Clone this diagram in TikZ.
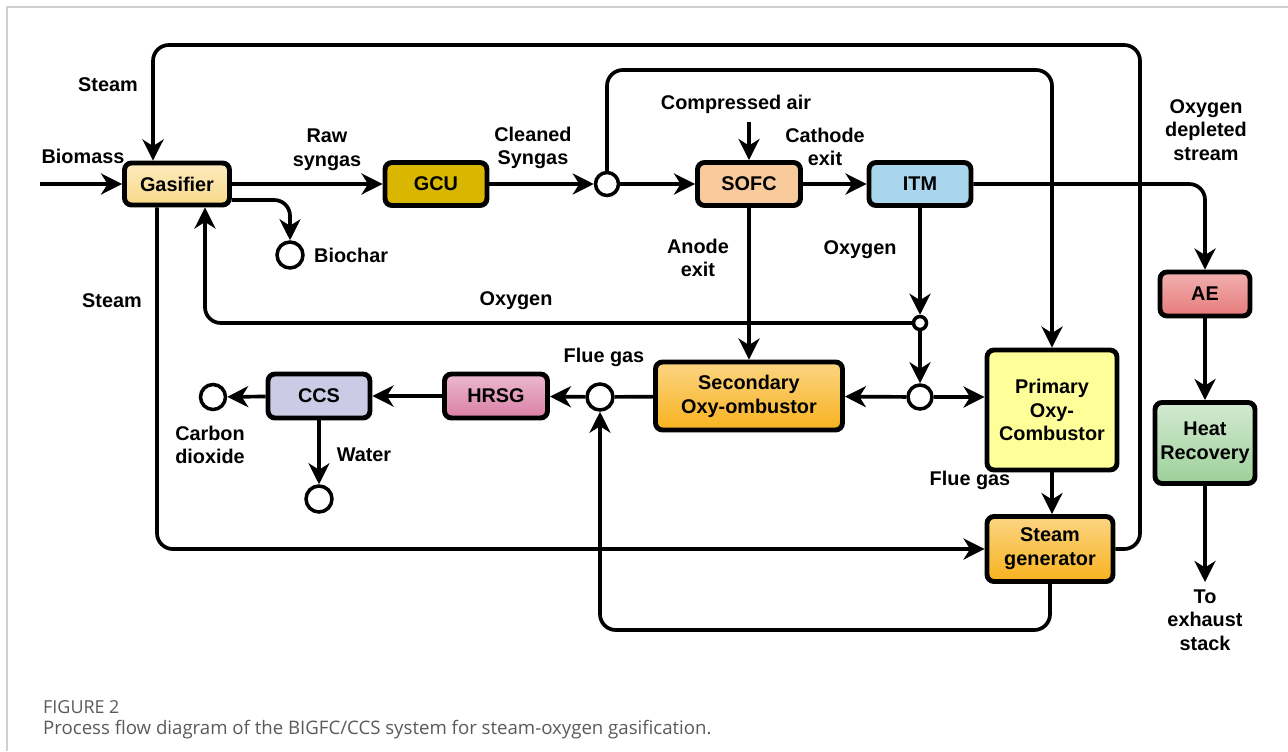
\documentclass[tikz,border=0pt]{standalone}
\usepackage{fontspec}
\setmainfont{Liberation Sans}
\newfontfamily\capfont{Open Sans}
\usetikzlibrary{arrows.meta}
\usetikzlibrary{positioning,calc}
\definecolor{gasfill}{HTML}{F8DA88}
\definecolor{gcufill}{HTML}{D9B700}
\definecolor{sofcfill}{HTML}{F9CB9C}
\definecolor{itmfill}{HTML}{A9D6EC}
\definecolor{aefill}{HTML}{E77B7B}
\definecolor{heatfill}{HTML}{9DD09A}
\definecolor{orangefill}{HTML}{F8B21E}
\definecolor{primfill}{HTML}{FFFF99}
\definecolor{hrsgfill}{HTML}{DA7FA6}
\definecolor{ccsfill}{HTML}{CBCBE5}
\definecolor{framegray}{HTML}{CFCFCF}
\definecolor{capgray}{HTML}{5A5A5A}
\tikzset{
    unit/.style={
        draw,
        line width=2.8pt,
        rounded corners=4pt,
        align=center,
        inner sep=1pt,
        font=\fontsize{11.3}{13.5}\selectfont\bfseries
    },
    port/.style={
        draw,
        circle,
        fill=white,
        line width=2pt,
        inner sep=0pt
    },
    flow/.style={
        line width=2.1pt,
        rounded corners=9pt,
        -{Stealth[length=4.2mm, width=4.2mm, inset=1.3mm]}
    },
    lbl/.style={
        align=center,
        font=\fontsize{11.3}{13.5}\selectfont\bfseries
    }
}

\begin{document}
\begin{tikzpicture}[x=0.02cm, y=-0.02cm]
    \useasboundingbox (0,0) rectangle (1288,751);
    \draw[framegray, line width=0.8pt] (7,751) -- (7,7) -- (1288,7);

    % Units
    \node[unit, top color=gasfill!55, bottom color=gasfill, minimum width=2.1cm, minimum height=0.84cm] (gas) at (177,184) {Gasifier};
    \node[unit, fill=gcufill, minimum width=2.04cm, minimum height=0.86cm] (gcu) at (436,184) {GCU};
    \node[unit, fill=sofcfill, minimum width=2.06cm, minimum height=0.86cm] (sofc) at (749,184) {SOFC};
    \node[unit, fill=itmfill, minimum width=2.04cm, minimum height=0.86cm] (itm) at (920,184) {ITM};
    \node[unit, top color=aefill!60, bottom color=aefill, minimum width=1.8cm, minimum height=0.88cm] (ae) at (1205,294) {AE};
    \node[unit, top color=heatfill!45, bottom color=heatfill, minimum width=2.0cm, minimum height=1.62cm] (heat) at (1205,443) {Heat\\Recovery};
    \node[unit, top color=orangefill!55, bottom color=orangefill, minimum width=3.74cm, minimum height=1.36cm] (sec) at (749,396) {Secondary\\Oxy-ombustor};
    \node[unit, fill=primfill, minimum width=2.6cm, minimum height=2.4cm] (prim) at (1052,410) {Primary\\Oxy-\\Combustor};
    \node[unit, top color=orangefill!55, bottom color=orangefill, minimum width=2.52cm, minimum height=1.3cm] (sg) at (1050,549) {Steam\\generator};
    \node[unit, top color=hrsgfill!55, bottom color=hrsgfill, minimum width=2.06cm, minimum height=0.88cm] (hrsg) at (496,396) {HRSG};
    \node[unit, fill=ccsfill, minimum width=2.04cm, minimum height=0.88cm] (ccs) at (319,396) {CCS};

    % Junctions and sinks
    \node[port, minimum size=0.46cm] (split) at (607,184) {};
    \node[port, minimum size=0.52cm] (bio) at (290,255) {};
    \node[port, minimum size=0.26cm] (oxj) at (920,323) {};
    \node[port, minimum size=0.48cm] (mix) at (920,397) {};
    \node[port, minimum size=0.52cm] (flue) at (600,397) {};
    \node[port, minimum size=0.5cm] (co2) at (213,397) {};
    \node[port, minimum size=0.52cm] (water) at (319,499) {};

    % Free ends and bends
    \coordinate (feed) at (40,184);
    \coordinate (air) at (749,122);
    \coordinate (exh) at (1205,582);
    \coordinate (steamtop) at (1140,45);
    \coordinate (bypass) at (0,70);
    \coordinate (ret) at (0,630);

    % Streams
    \draw[flow] (feed) -- (gas);
    \draw[flow] (sg.east) -| (steamtop) -| ([xshift=-0.48cm]gas.north);
    \draw[flow] ([xshift=-0.4cm]gas.south) |- (sg.west);
    \draw[flow] (gas) -- (gcu);
    \draw[flow] ([yshift=-0.32cm]gas.east) -| (bio);
    \draw[flow] (gcu) -- (split);
    \draw[flow] (split) -- (sofc);
    \draw[flow] (split.north) |- (prim.north |- bypass) -- (prim.north);
    \draw[flow] (air) -- (sofc);
    \draw[flow] (sofc) -- (itm);
    \draw[flow] (itm.east) -| (ae.north);
    \draw[flow] (ae) -- (heat);
    \draw[flow] (heat) -- (exh);
    \draw[flow] (itm) -- (oxj);
    \draw[flow] (oxj.west) -| ([xshift=0.56cm]gas.south);
    \draw[flow] (oxj) -- (mix);
    \draw[flow] (mix) -- (sec);
    \draw[flow] (mix) -- (mix -| prim.west);
    \draw[flow] (sofc) -- (sec);
    \draw[flow] (prim.south) -- (prim.south |- sg.north);
    \draw[flow] (sg.south) -- (sg.south |- ret) -| (flue.south);
    \draw[line width=2.1pt] (sec) -- (flue);
    \draw[flow] (flue) -- (hrsg);
    \draw[flow] (hrsg) -- (ccs);
    \draw[flow] (ccs) -- (co2);
    \draw[flow] (ccs) -- (water);

    % Stream labels
    \node[lbl] (lsteam1) at (108,85) {Steam};
    \node[lbl] (lbiomass) at (83,156) {Biomass};
    \node[lbl] (lraw) at (327,150) {Raw\\syngas};
    \node[lbl, anchor=west] (lbio) at (308,255) {Biochar};
    \node[lbl] (lsteam2) at (112,301) {Steam};
    \node[lbl] (lclean) at (533,148) {Cleaned\\Syngas};
    \node[lbl] (lair) at (736,104) {Compressed air};
    \node[lbl] (lcath) at (825,147) {Cathode\\exit};
    \node[lbl] (ldep) at (1206,130) {Oxygen\\depleted\\stream};
    \node[lbl] (lanode) at (698,258) {Anode\\exit};
    \node[lbl] (lox1) at (860,250) {Oxygen};
    \node[lbl] (lox2) at (516,301) {Oxygen};
    \node[lbl] (lflue1) at (604,357) {Flue gas};
    \node[lbl] (lflue2) at (970,480) {Flue gas};
    \node[lbl] (lco2) at (210,445) {Carbon\\dioxide};
    \node[lbl] (lwater) at (364,455) {Water};
    \node[lbl] (lexh) at (1205,620) {To\\exhaust\\stack};

    % Caption
    \node[anchor=west, font=\capfont\fontsize{10.2}{12}\selectfont, text=capgray] (fig) at (37,707) {FIGURE 2};
    \node[anchor=west, font=\capfont\fontsize{10.6}{12}\selectfont, text=capgray] (cap) at (37,730) {Process flow diagram of the BIGFC/CCS system for steam-oxygen gasification.};
\end{tikzpicture}
\end{document}
